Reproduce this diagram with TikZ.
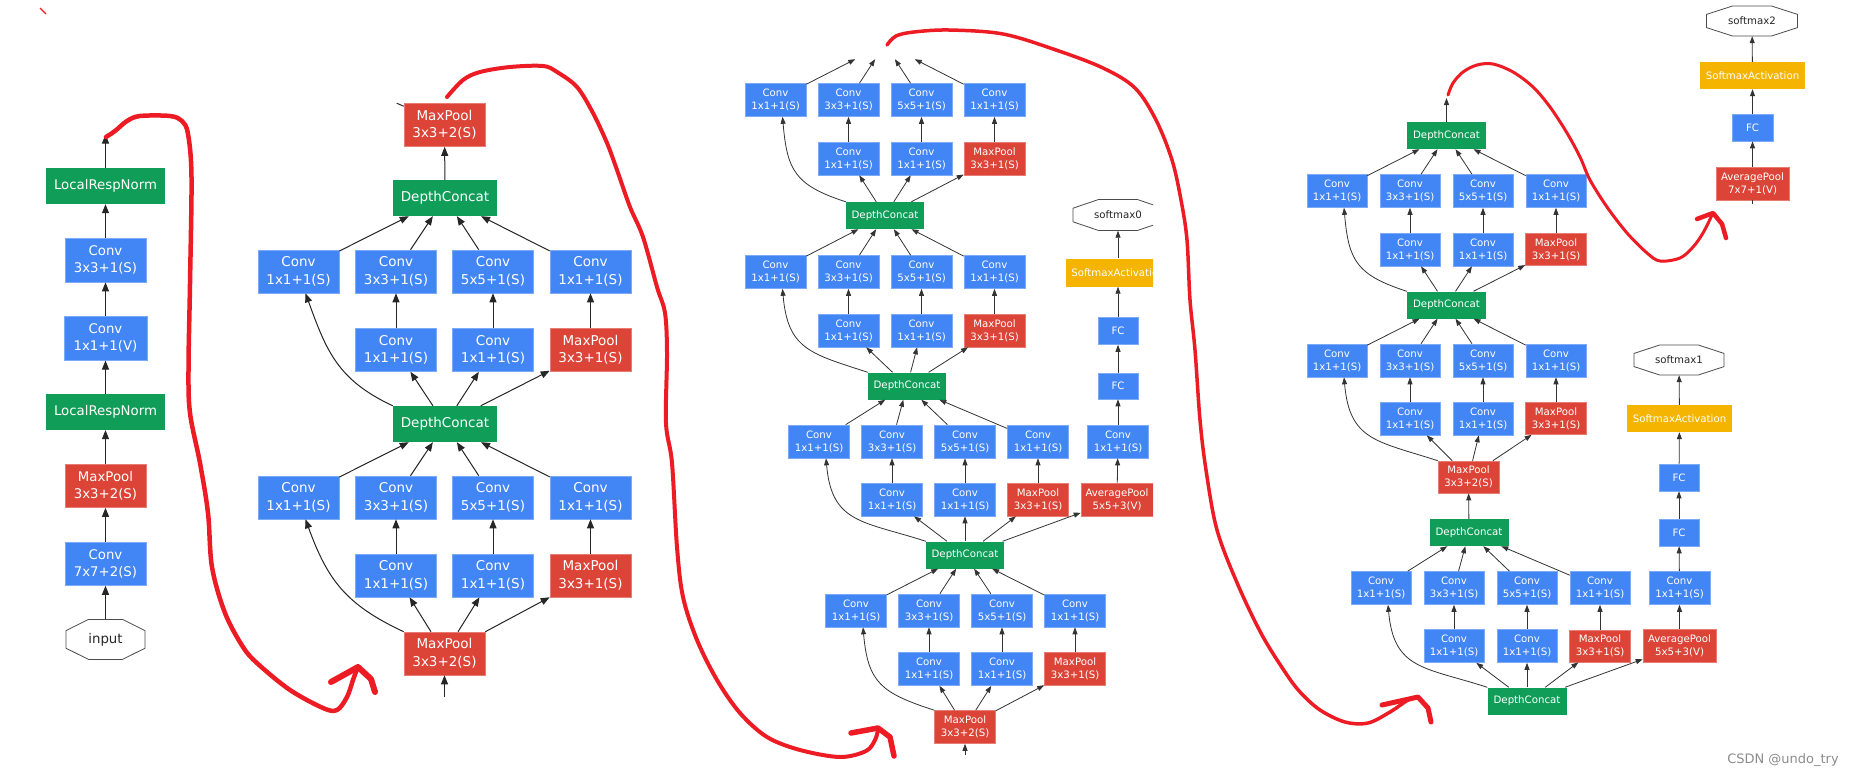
\documentclass[tikz,border=0pt]{standalone}
\usepackage{fontspec}
\setmainfont{DejaVu Sans}
\usetikzlibrary{arrows.meta}
\definecolor{gblue}{RGB}{66,133,244}
\definecolor{ggreen}{RGB}{15,157,88}
\definecolor{gred}{RGB}{219,68,55}
\definecolor{gyel}{RGB}{244,180,0}
\definecolor{penred}{RGB}{237,28,36}
\newcommand\fntA{\fontsize{13.3}{17.2}\selectfont}
\newcommand\fntB{\fontsize{13.5}{17.5}\selectfont}
\newcommand\fntC{\fontsize{10.2}{13}\selectfont}
\newcommand\octnode[6]{%
  \node[octtxt] (#1) at (#2,#3) [minimum width=#4pt, minimum height=#5pt] {#6};
  \draw[octline] ({#2-#4/2},{#3-0.22*#5}) -- ({#2-0.215*#4},{#3-#5/2}) -- ({#2+0.215*#4},{#3-#5/2}) -- ({#2+#4/2},{#3-0.22*#5}) -- ({#2+#4/2},{#3+0.22*#5}) -- ({#2+0.215*#4},{#3+#5/2}) -- ({#2-0.215*#4},{#3+#5/2}) -- ({#2-#4/2},{#3+0.22*#5}) -- cycle;
}
\newcommand\incep[9]{%
  \node[cv] (#1a1) at (#2,#6) {Conv\\1x1+1(S)};
  \node[cv] (#1b1) at (#3,#6) {Conv\\3x3+1(S)};
  \node[cv] (#1c1) at (#4,#6) {Conv\\5x5+1(S)};
  \node[cv] (#1d1) at (#5,#6) {Conv\\1x1+1(S)};
  \node[cv] (#1b2) at (#3,#7) {Conv\\1x1+1(S)};
  \node[cv] (#1c2) at (#4,#7) {Conv\\1x1+1(S)};
  \node[mp] (#1d2) at (#5,#7) {MaxPool\\3x3+1(S)};
  \draw[ed] (#8) -- (#1b2);
  \draw[ed] (#8) -- (#1c2);
  \draw[ed] (#8) -- (#1d2);
  \draw[ed] (#8.north west) to[crv] ([xshift=7pt]#1a1.south);
  \draw[ed] (#1b2) -- (#1b1);
  \draw[ed] (#1c2) -- (#1c1);
  \draw[ed] (#1d2) -- (#1d1);
  \draw[ed] (#1a1) -- (#9);
  \draw[ed] (#1b1) -- (#9);
  \draw[ed] (#1c1) -- (#9);
  \draw[ed] (#1d1) -- (#9);
}
\begin{document}
\begin{tikzpicture}[x=1pt,y=-1pt,
  box/.style={inner sep=0pt, align=center, text=white},
  bl/.style={box, fill=gblue, draw=gblue!70!white, line width=0.6pt},
  rd/.style={box, fill=gred, draw=gred!70!white, line width=0.6pt},
  gr/.style={box, fill=ggreen},
  ye/.style={box, fill=gyel},
  octtxt/.style={inner sep=0pt, text=black!85},
  octline/.style={draw=black!70, line width=0.8pt},
  pen/.style={draw=penred, line width=4pt, line cap=round, line join=round},
  edA/.style={draw=black!85, line width=1pt, -{Triangle[length=9pt,width=7pt]}},
  edC/.style={draw=black!80, line width=0.8pt, -{Triangle[length=7pt,width=5pt]}},
]
\fill[white] (0,0) rectangle (1855,777);
\useasboundingbox (0,0) rectangle (1855,777);

% ---------------- column 1 ----------------
\begin{scope}[octtxt/.append style={font=\fntA},
  cvA/.style={bl, minimum width=81pt, minimum height=43.5pt, font=\fntA},
  mpA/.style={rd, minimum width=81pt, minimum height=43.5pt, font=\fntA},
  lrn/.style={gr, minimum width=119pt, minimum height=36pt, font=\fntA}]
\octnode{inp}{105.5}{639.4}{79}{40}{input}
\node[cvA] (c7) at (105.5,563.7) {Conv\\7x7+2(S)};
\node[mpA] (mp1) at (105.5,485.8) {MaxPool\\3x3+2(S)};
\node[lrn] (lrn1) at (105.5,411.9) {LocalRespNorm};
\node[cvA, minimum width=83pt, minimum height=44pt] (c1v) at (105.5,338.2) {Conv\\1x1+1(V)};
\node[cvA] (c3) at (105.5,260.3) {Conv\\3x3+1(S)};
\node[lrn] (lrn2) at (105.5,186) {LocalRespNorm};
\coordinate (top1) at (105.5,134.5);
\draw[edA] (inp) -- (c7);
\draw[edA] (c7) -- (mp1);
\draw[edA] (mp1) -- (lrn1);
\draw[edA] (lrn1) -- (c1v);
\draw[edA] (c1v) -- (c3);
\draw[edA] (c3) -- (lrn2);
\draw[edA] (lrn2) -- (top1);
\end{scope}

% ---------------- column 2 ----------------
\begin{scope}[
  cv/.style={bl, minimum width=81pt, minimum height=43pt, font=\fntB},
  mp/.style={rd, minimum width=81pt, minimum height=43pt, font=\fntB},
  dc/.style={gr, minimum width=104pt, minimum height=36pt, font=\fntB},
  ed/.style={edA},
  crv/.style={out=155,in=-70,looseness=1.1}]
\node[mp] (mpT) at (444.5,125) {MaxPool\\3x3+2(S)};
\node[dc] (dcT) at (445,198) {DepthConcat};
\node[dc] (dcM) at (445,424) {DepthConcat};
\node[mp] (mpB) at (444.5,653.5) {MaxPool\\3x3+2(S)};
\coordinate (in2) at (444.5,697);
\incep{u}{298.5}{396}{493}{590.5}{271.5}{350}{dcM}{dcT}
\incep{l}{298.5}{396}{493}{590.5}{497.5}{575.5}{mpB}{dcM}
\draw[ed] (dcT) -- (mpT);
\draw[ed] (in2) -- (mpB);
\draw[draw=black!85, line width=1pt] ([yshift=-3pt]mpT.north west) -- ++(-7,-3);
\end{scope}

% ---------------- column 3 ----------------
\begin{scope}[
  cv/.style={bl, minimum width=61pt, minimum height=33pt, font=\fntC},
  mp/.style={rd, minimum width=61pt, minimum height=33pt, font=\fntC},
  dc/.style={gr, minimum width=78pt, minimum height=27pt, font=\fntC},
  ed/.style={edC},
  crv/.style={out=162,in=-85,looseness=1.3},
  octtxt/.append style={font=\fntC}]
\node[minimum width=78pt, minimum height=30pt, inner sep=0pt] (dcX) at (885,44) {};
\node[dc] (dc1) at (885,215.5) {DepthConcat};
\node[dc] (dc2) at (907,386) {DepthConcat};
\node[dc] (dc3) at (965,555) {DepthConcat};
\node[mp] (mp3) at (965,727) {MaxPool\\3x3+2(S)};
\coordinate (in3) at (965,755);
\incep{A}{775.5}{848.5}{921.5}{994.5}{100}{158.5}{dc1}{dcX}
\incep{B}{775.5}{848.5}{921.5}{994.5}{272}{330.5}{dc2}{dc1}
\incep{C}{819}{892}{965}{1038}{441.5}{499.5}{dc3}{dc2}
\incep{D}{856}{929}{1002}{1075}{610.5}{669}{mp3}{dc3}
\draw[ed] (in3) -- (mp3);
\begin{scope}
\clip (1040,190) rectangle (1153,530);
\node[rd, minimum width=72pt, minimum height=33pt, font=\fntC] (avg0) at (1117,499.5) {AveragePool\\5x5+3(V)};
\node[cv] (cnv0) at (1118,441.5) {Conv\\1x1+1(S)};
\node[bl, minimum width=40pt, minimum height=26pt, font=\fntC] (fc0a) at (1118,386) {FC};
\node[bl, minimum width=40pt, minimum height=27pt, font=\fntC] (fc0b) at (1118,331) {FC};
\node[ye, minimum width=105pt, minimum height=28pt, font=\fntC] (sma0) at (1118,272.5) {SoftmaxActivation};
\octnode{sm0}{1118}{215}{90}{31}{softmax0}
\end{scope}
\draw[ed] (dc3) -- (avg0);
\draw[ed] (avg0) -- (cnv0);
\draw[ed] (cnv0) -- (fc0a);
\draw[ed] (fc0a) -- (fc0b);
\draw[ed] (fc0b) -- (sma0);
\draw[ed] (sma0) -- (sm0);
\end{scope}

% ---------------- column 4 ----------------
\begin{scope}[
  cv/.style={bl, minimum width=60pt, minimum height=33pt, font=\fntC},
  mp/.style={rd, minimum width=61pt, minimum height=32pt, font=\fntC},
  dc/.style={gr, minimum width=79pt, minimum height=27pt, font=\fntC},
  ed/.style={edC},
  crv/.style={out=162,in=-85,looseness=1.3},
  octtxt/.append style={font=\fntC}]
\octnode{sm2}{1752}{21}{91}{30}{softmax2}
\node[ye, minimum width=105pt, minimum height=27pt, font=\fntC] (sma2) at (1752.5,75.5) {SoftmaxActivation};
\node[bl, minimum width=41pt, minimum height=27pt, font=\fntC] (fc2) at (1752.5,127.5) {FC};
\node[rd, minimum width=73pt, minimum height=33pt, font=\fntC] (avg2) at (1752.5,183.5) {AveragePool\\7x7+1(V)};
\coordinate (st2) at (1752.5,204);
\draw[black!80, line width=0.8pt] (st2) -- (avg2.south);
\draw[ed] (avg2) -- (fc2);
\draw[ed] (fc2) -- (sma2);
\draw[ed] (sma2) -- (sm2);
\node[dc] (dc5b) at (1446.5,135.5) {DepthConcat};
\coordinate (top4) at (1446.5,98);
\node[dc] (dc5a) at (1446.5,305) {DepthConcat};
\node[mp] (mp4) at (1468.5,477) {MaxPool\\3x3+2(S)};
\node[dc] (dc4e) at (1469,532.5) {DepthConcat};
\node[dc] (dc4d) at (1527,701) {DepthConcat};
\incep{E}{1337}{1410}{1483}{1556}{191}{249.5}{dc5a}{dc5b}
\incep{F}{1337}{1410}{1483}{1556}{360.5}{418.5}{mp4}{dc5a}
\incep{G}{1381}{1454}{1527}{1600}{588}{646}{dc4d}{dc4e}
\draw[ed] (dc5b) -- (top4);
\draw[ed] (dc4e) -- (mp4);
\node[rd, minimum width=73pt, minimum height=33pt, font=\fntC] (avg1) at (1679.5,646) {AveragePool\\5x5+3(V)};
\node[cv, minimum width=61pt] (cnv1) at (1679.5,588) {Conv\\1x1+1(S)};
\node[bl, minimum width=40pt, minimum height=27pt, font=\fntC] (fc1a) at (1679,532.5) {FC};
\node[bl, minimum width=40pt, minimum height=27pt, font=\fntC] (fc1b) at (1679,477.5) {FC};
\node[ye, minimum width=105pt, minimum height=27pt, font=\fntC] (sma1) at (1679.5,418.5) {SoftmaxActivation};
\octnode{sm1}{1679}{360}{90}{30}{softmax1}
\draw[ed] (dc4d) -- (avg1);
\draw[ed] (avg1) -- (cnv1);
\draw[ed] (cnv1) -- (fc1a);
\draw[ed] (fc1a) -- (fc1b);
\draw[ed] (fc1b) -- (sma1);
\draw[ed] (sma1) -- (sm1);
\end{scope}

% ---------------- red pen annotations ----------------
\draw[pen, line width=4.5pt] plot[smooth, tension=0.55] coordinates {(106,137) (115,131) (127,121) (140,116) (170,116) (182,121) (188,134) (191.5,177) (190,284) (188.5,368) (190,413) (200,463) (208,513) (212,567) (225,613) (243,647) (258,664) (290,690) (323,708) (337,710) (347,697) (353,680) (357,669)};
\draw[pen, line width=6pt] (331,682) -- (358,667) -- (371,679) -- (375,692);
\draw[pen, line width=4pt] plot[smooth, tension=0.55] coordinates {(447,97) (463,80) (480,72) (510,67) (543,66) (557,72) (577,87) (593,113) (607,143) (617,170) (630,207) (643,237) (657,287) (665,313) (667,353) (666,423) (672,463) (677,547) (683,597) (697,640) (717,680) (740,713) (767,737) (800,750) (840,757) (866,751) (875,740) (878,730)};
\draw[pen, line width=5.5pt] (851,733) -- (878,728) -- (890,737) -- (894,756);
\draw[pen, line width=3.5pt] plot[smooth, tension=0.55] coordinates {(887,45) (896,36) (914,32) (949,30) (1003,34) (1056,50) (1103,68) (1135,88) (1156,120) (1172,160) (1181,200) (1187,240) (1190,300) (1195,350) (1200,420) (1206,470) (1217,530) (1238,585) (1262,635) (1285,672) (1300,692) (1320,710) (1345,722) (1368,723) (1390,712) (1408,700) (1417,697)};
\draw[pen, line width=5pt] (1382,705) -- (1418,697) -- (1428,708) -- (1431,722);
\draw[pen, line width=3pt] plot[smooth, tension=0.55] coordinates {(1448,95) (1453,83) (1463,72) (1477,65) (1493,64) (1513,72) (1533,87) (1550,107) (1567,133) (1580,157) (1590,180) (1607,207) (1627,233) (1647,253) (1660,261) (1680,258) (1693,247) (1703,233) (1712,215)};
\draw[pen, line width=4.5pt] (1697,219) -- (1713,213) -- (1722,224) -- (1726,238);
\draw[penred, line width=1.2pt] (40,8) -- (46,14);

\node[font=\fontsize{13}{13}\selectfont, text=black!45, inner sep=0pt] (wm) at (1783,760.5) {CSDN @undo\_try};
\end{tikzpicture}
\end{document}
